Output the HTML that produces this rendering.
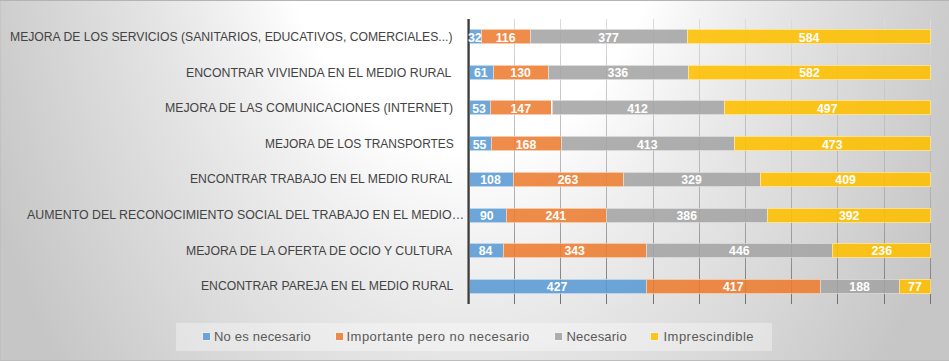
<!DOCTYPE html>
<html><head><meta charset="utf-8"><style>
html,body{margin:0;padding:0}
body{width:949px;height:361px;overflow:hidden;position:relative;font-family:"Liberation Sans",sans-serif;background:radial-gradient(ellipse 536px 895px at 470px -205px, rgb(255,255,255) 0%, rgb(255,255,255) 39.9%, rgb(247,247,247) 46.0%, rgb(240,240,240) 52.0%, rgb(234,234,234) 58.0%, rgb(228,228,228) 64.0%, rgb(223,223,223) 70.0%, rgb(218,218,218) 76.0%, rgb(213,213,213) 82.0%, rgb(208,208,208) 88.0%, rgb(203,203,203) 94.0%, rgb(198,198,198) 100.0%)}
.lft{position:absolute;left:0;top:0;width:1px;height:361px;background:rgba(0,0,0,.035)}
.top{position:absolute;left:0;top:0;width:949px;height:1px;background:#b4b4b4}
.bot{position:absolute;left:0;top:360px;width:949px;height:1px;background:#bcbcbc}
.g{position:absolute;top:19px;height:285px;width:1px;background:linear-gradient(#dcdcdc 0%,#c0c0c0 37%,#b0b0b0 63%,#8e8e8e 86%,#707070 100%)}
.ax{position:absolute;z-index:1;left:467px;top:19px;width:3px;height:285px;background:linear-gradient(90deg,#8c8c8c 0 1px,#3c3c3c 1px 2px,#6c6c6c 2px 3px)}
.lab{position:absolute;transform-origin:0 0;font-size:12px;color:#434343;white-space:pre;line-height:14px}
.seg{position:absolute;box-sizing:border-box;border:1px solid;opacity:.88;background-clip:border-box}
.v{position:absolute;z-index:2;font-weight:bold;font-size:12.3px;color:#fff;text-align:center;line-height:14px;white-space:pre}
.leg{position:absolute;left:176px;top:323px;width:595.5px;height:28px;background:rgba(255,255,255,.35)}
.sq{position:absolute;width:7px;height:7px;top:333px;opacity:.88;box-shadow:0 0 1px 1px rgba(255,255,255,.35)}
.lt{position:absolute;top:330px;font-size:13px;color:#595959;line-height:14px;white-space:pre}
</style></head><body>
<div class="lft"></div><div class="top"></div><div class="bot"></div>
<div class="g" style="left:514px"></div>
<div class="g" style="left:560px"></div>
<div class="g" style="left:606px"></div>
<div class="g" style="left:653px"></div>
<div class="g" style="left:699px"></div>
<div class="g" style="left:745px"></div>
<div class="g" style="left:791px"></div>
<div class="g" style="left:837px"></div>
<div class="g" style="left:884px"></div>
<div class="g" style="left:930px"></div>
<div class="seg" style="left:468.00px;top:29.00px;width:13.36px;height:15.0px;background:#5b9bd5;border-color:rgba(255,255,255,.55);border-right-width:0px"></div>
<div class="v" style="left:468.00px;top:30.80px;width:13.36px">32</div>
<div class="seg" style="left:481.36px;top:29.00px;width:48.43px;height:15.0px;background:#ed7d31;border-color:rgba(255,255,255,.55);border-right-width:0px"></div>
<div class="v" style="left:481.36px;top:30.80px;width:48.43px">116</div>
<div class="seg" style="left:529.79px;top:29.00px;width:157.39px;height:15.0px;background:#a5a5a5;border-color:rgba(255,255,255,.55);border-right-width:0px"></div>
<div class="v" style="left:529.79px;top:30.80px;width:157.39px">377</div>
<div class="seg" style="left:687.18px;top:29.00px;width:243.82px;height:15.0px;background:#ffc000;border-color:rgba(255,255,255,.55);border-right-width:1px"></div>
<div class="v" style="left:687.18px;top:30.80px;width:243.82px">584</div>
<div class="lab" style="left:10.39px;top:30.45px;transform:scaleX(1.0147)">MEJORA DE LOS SERVICIOS (SANITARIOS, EDUCATIVOS, COMERCIALES...)</div>
<div class="seg" style="left:468.00px;top:64.71px;width:25.47px;height:15.0px;background:#5b9bd5;border-color:rgba(255,255,255,.55);border-right-width:0px"></div>
<div class="v" style="left:468.00px;top:66.41px;width:25.47px">61</div>
<div class="seg" style="left:493.47px;top:64.71px;width:54.27px;height:15.0px;background:#ed7d31;border-color:rgba(255,255,255,.55);border-right-width:0px"></div>
<div class="v" style="left:493.47px;top:66.41px;width:54.27px">130</div>
<div class="seg" style="left:547.74px;top:64.71px;width:140.28px;height:15.0px;background:#a5a5a5;border-color:rgba(255,255,255,.55);border-right-width:0px"></div>
<div class="v" style="left:547.74px;top:66.41px;width:140.28px">336</div>
<div class="seg" style="left:688.02px;top:64.71px;width:242.98px;height:15.0px;background:#ffc000;border-color:rgba(255,255,255,.55);border-right-width:1px"></div>
<div class="v" style="left:688.02px;top:66.41px;width:242.98px">582</div>
<div class="lab" style="left:186.04px;top:66.02px;transform:scaleX(1.0252)">ENCONTRAR VIVIENDA EN EL MEDIO RURAL</div>
<div class="seg" style="left:468.00px;top:100.43px;width:22.13px;height:15.0px;background:#5b9bd5;border-color:rgba(255,255,255,.55);border-right-width:0px"></div>
<div class="v" style="left:468.00px;top:102.03px;width:22.13px">53</div>
<div class="seg" style="left:490.13px;top:100.43px;width:61.37px;height:15.0px;background:#ed7d31;border-color:rgba(255,255,255,.55);border-right-width:0px"></div>
<div class="v" style="left:490.13px;top:102.03px;width:61.37px">147</div>
<div class="seg" style="left:551.50px;top:100.43px;width:172.01px;height:15.0px;background:#a5a5a5;border-color:rgba(255,255,255,.55);border-right-width:0px"></div>
<div class="v" style="left:551.50px;top:102.03px;width:172.01px">412</div>
<div class="seg" style="left:723.51px;top:100.43px;width:207.49px;height:15.0px;background:#ffc000;border-color:rgba(255,255,255,.55);border-right-width:1px"></div>
<div class="v" style="left:723.51px;top:102.03px;width:207.49px">497</div>
<div class="lab" style="left:165.42px;top:100.79px;transform:scaleX(1.0238)">MEJORA DE LAS COMUNICACIONES (INTERNET)</div>
<div class="seg" style="left:468.00px;top:136.14px;width:22.96px;height:15.0px;background:#5b9bd5;border-color:rgba(255,255,255,.55);border-right-width:0px"></div>
<div class="v" style="left:468.00px;top:137.64px;width:22.96px">55</div>
<div class="seg" style="left:490.96px;top:136.14px;width:70.14px;height:15.0px;background:#ed7d31;border-color:rgba(255,255,255,.55);border-right-width:0px"></div>
<div class="v" style="left:490.96px;top:137.64px;width:70.14px">168</div>
<div class="seg" style="left:561.10px;top:136.14px;width:172.42px;height:15.0px;background:#a5a5a5;border-color:rgba(255,255,255,.55);border-right-width:0px"></div>
<div class="v" style="left:561.10px;top:137.64px;width:172.42px">413</div>
<div class="seg" style="left:733.53px;top:136.14px;width:197.47px;height:15.0px;background:#ffc000;border-color:rgba(255,255,255,.55);border-right-width:1px"></div>
<div class="v" style="left:733.53px;top:137.64px;width:197.47px">473</div>
<div class="lab" style="left:265.19px;top:137.16px;transform:scaleX(0.9958)">MEJORA DE LOS TRANSPORTES</div>
<div class="seg" style="left:468.00px;top:171.86px;width:45.09px;height:15.0px;background:#5b9bd5;border-color:rgba(255,255,255,.55);border-right-width:0px"></div>
<div class="v" style="left:468.00px;top:173.26px;width:45.09px">108</div>
<div class="seg" style="left:513.09px;top:171.86px;width:109.80px;height:15.0px;background:#ed7d31;border-color:rgba(255,255,255,.55);border-right-width:0px"></div>
<div class="v" style="left:513.09px;top:173.26px;width:109.80px">263</div>
<div class="seg" style="left:622.89px;top:171.86px;width:137.36px;height:15.0px;background:#a5a5a5;border-color:rgba(255,255,255,.55);border-right-width:0px"></div>
<div class="v" style="left:622.89px;top:173.26px;width:137.36px">329</div>
<div class="seg" style="left:760.25px;top:171.86px;width:170.75px;height:15.0px;background:#ffc000;border-color:rgba(255,255,255,.55);border-right-width:1px"></div>
<div class="v" style="left:760.25px;top:173.26px;width:170.75px">409</div>
<div class="lab" style="left:190.07px;top:171.93px;transform:scaleX(1.014)">ENCONTRAR TRABAJO EN EL MEDIO RURAL</div>
<div class="seg" style="left:468.00px;top:207.57px;width:37.57px;height:15.0px;background:#5b9bd5;border-color:rgba(255,255,255,.55);border-right-width:0px"></div>
<div class="v" style="left:468.00px;top:208.87px;width:37.57px">90</div>
<div class="seg" style="left:505.57px;top:207.57px;width:100.62px;height:15.0px;background:#ed7d31;border-color:rgba(255,255,255,.55);border-right-width:0px"></div>
<div class="v" style="left:505.57px;top:208.87px;width:100.62px">241</div>
<div class="seg" style="left:606.19px;top:207.57px;width:161.15px;height:15.0px;background:#a5a5a5;border-color:rgba(255,255,255,.55);border-right-width:0px"></div>
<div class="v" style="left:606.19px;top:208.87px;width:161.15px">386</div>
<div class="seg" style="left:767.34px;top:207.57px;width:163.66px;height:15.0px;background:#ffc000;border-color:rgba(255,255,255,.55);border-right-width:1px"></div>
<div class="v" style="left:767.34px;top:208.87px;width:163.66px">392</div>
<div class="lab" style="left:27.18px;top:208.30px;transform:scaleX(1.03)">AUMENTO DEL RECONOCIMIENTO SOCIAL DEL TRABAJO EN EL MEDIO…</div>
<div class="seg" style="left:468.00px;top:243.28px;width:35.07px;height:15.0px;background:#5b9bd5;border-color:rgba(255,255,255,.55);border-right-width:0px"></div>
<div class="v" style="left:468.00px;top:244.48px;width:35.07px">84</div>
<div class="seg" style="left:503.07px;top:243.28px;width:143.20px;height:15.0px;background:#ed7d31;border-color:rgba(255,255,255,.55);border-right-width:0px"></div>
<div class="v" style="left:503.07px;top:244.48px;width:143.20px">343</div>
<div class="seg" style="left:646.27px;top:243.28px;width:186.20px;height:15.0px;background:#a5a5a5;border-color:rgba(255,255,255,.55);border-right-width:0px"></div>
<div class="v" style="left:646.27px;top:244.48px;width:186.20px">446</div>
<div class="seg" style="left:832.47px;top:243.28px;width:98.53px;height:15.0px;background:#ffc000;border-color:rgba(255,255,255,.55);border-right-width:1px"></div>
<div class="v" style="left:832.47px;top:244.48px;width:98.53px">236</div>
<div class="lab" style="left:185.63px;top:243.87px;transform:scaleX(1.0204)">MEJORA DE LA OFERTA DE OCIO Y CULTURA</div>
<div class="seg" style="left:468.00px;top:279.00px;width:178.27px;height:15.0px;background:#5b9bd5;border-color:rgba(255,255,255,.55);border-right-width:0px"></div>
<div class="v" style="left:468.00px;top:280.10px;width:178.27px">427</div>
<div class="seg" style="left:646.27px;top:279.00px;width:174.09px;height:15.0px;background:#ed7d31;border-color:rgba(255,255,255,.55);border-right-width:0px"></div>
<div class="v" style="left:646.27px;top:280.10px;width:174.09px">417</div>
<div class="seg" style="left:820.36px;top:279.00px;width:78.49px;height:15.0px;background:#a5a5a5;border-color:rgba(255,255,255,.55);border-right-width:0px"></div>
<div class="v" style="left:820.36px;top:280.10px;width:78.49px">188</div>
<div class="seg" style="left:898.85px;top:279.00px;width:32.15px;height:15.0px;background:#ffc000;border-color:rgba(255,255,255,.55);border-right-width:1px"></div>
<div class="v" style="left:898.85px;top:280.10px;width:32.15px">77</div>
<div class="lab" style="left:201.17px;top:279.44px;transform:scaleX(1.0145)">ENCONTRAR PAREJA EN EL MEDIO RURAL</div>
<div class="ax"></div>
<div class="leg"></div>
<div class="sq" style="left:203px;background:#5b9bd5"></div>
<div class="lt" style="left:214.00px;letter-spacing:0.200px">No es necesario</div>
<div class="sq" style="left:336px;background:#ed7d31"></div>
<div class="lt" style="left:346.50px;letter-spacing:0.481px">Importante pero no necesario</div>
<div class="sq" style="left:555px;background:#a5a5a5"></div>
<div class="lt" style="left:566.50px;letter-spacing:0.200px">Necesario</div>
<div class="sq" style="left:651px;background:#ffc000"></div>
<div class="lt" style="left:663.50px;letter-spacing:0.477px">Imprescindible</div>
</body></html>
